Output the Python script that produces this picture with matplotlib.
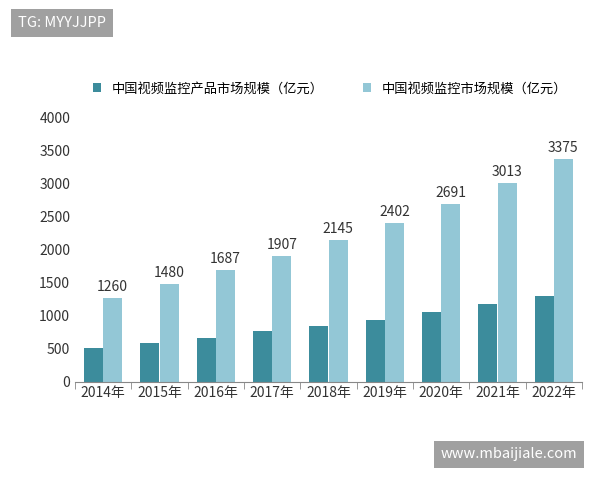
import matplotlib
matplotlib.use("Agg")
import matplotlib.pyplot as plt
import numpy as np

plt.rcParams['font.family'] = ['Noto Sans CJK SC', 'DejaVu Sans']

years = ["2014年", "2015年", "2016年", "2017年", "2018年", "2019年", "2020年", "2021年", "2022年"]
product = [505, 585, 655, 760, 835, 940, 1050, 1170, 1300]
market = [1260, 1480, 1687, 1907, 2145, 2402, 2691, 3013, 3375]
labels = ["中国视频监控产品市场规模（亿元）", "中国视频监控市场规模（亿元）"]

fig = plt.figure(figsize=(6, 4.8), dpi=100)
ax = fig.add_axes([0.125, 0.205, 0.845, 0.55])
x = np.arange(len(years))
w = 0.34
ax.bar(x - w/2, product, w, color='#3c8c9c', label=labels[0])
b = ax.bar(x + w/2, market, w, color='#93c7d6', label=labels[1])
for xi, v in zip(x, market):
    ax.text(xi + w/2, v + 60, str(v), ha='center', va='bottom', fontsize=10, color='#333333')
ax.set_ylim(0, 4000)
ax.set_yticks(range(0, 4001, 500))
ax.set_xlim(-0.5, len(years) - 0.5)
ax.set_xticks(x)
ax.set_xticklabels(years, fontsize=10, color='#333333')
ax.tick_params(axis='y', labelsize=10, colors='#333333', length=0)
ax.tick_params(axis='x', length=4, colors='#888888', labelcolor='#333333')
ax.set_xticks(np.arange(-0.5, len(years), 1), minor=True)
ax.tick_params(axis='x', which='major', length=0)
ax.tick_params(axis='x', which='minor', length=5, color='#888888')
for s in ['top', 'right', 'left']:
    ax.spines[s].set_visible(False)
ax.spines['bottom'].set_color('#888888')
fig.legend(loc='center', bbox_to_anchor=(0.55, 0.815), ncol=2, frameon=False, fontsize=9.5,
           handlelength=0.6, handleheight=0.6, columnspacing=3)
fig.text(0.03, 0.952, "TG: MYYJJPP", fontsize=10.5, color='white', va='center',
         bbox=dict(boxstyle='square,pad=0.45', fc='#a0a0a0', ec='none'))
fig.text(0.735, 0.054, "www.mbaijiale.com", fontsize=10.5, color='white', va='center',
         bbox=dict(boxstyle='square,pad=0.45', fc='#a0a0a0', ec='none'))
fig.savefig("out.png", dpi=100)
